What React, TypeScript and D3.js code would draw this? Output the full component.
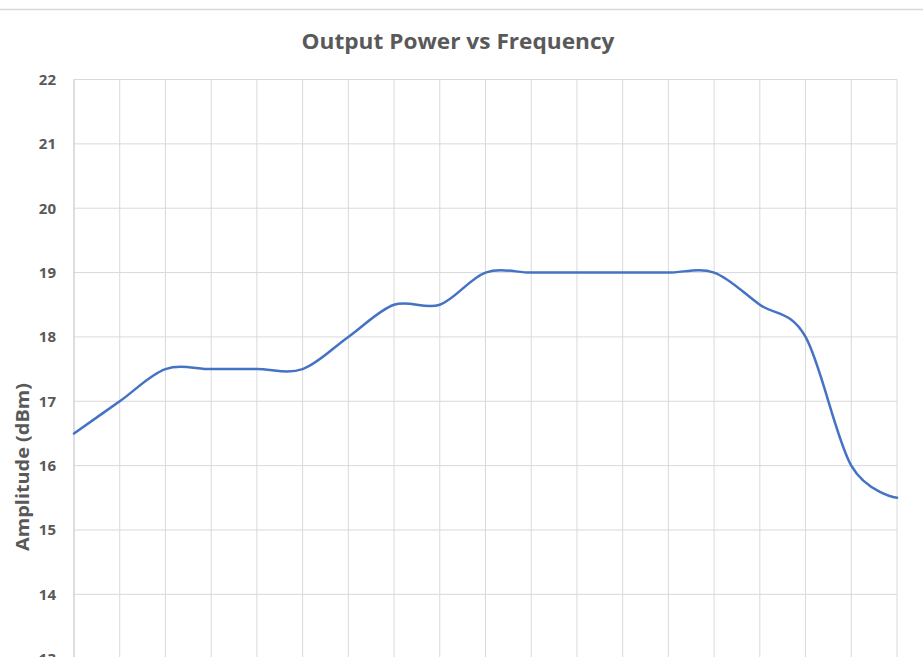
import React from "react";
import * as d3 from "d3";

const categories: string[] = [
  "1", "2", "3", "4", "5", "6", "7", "8", "9", "10",
  "11", "12", "13", "14", "15", "16", "17", "18", "19",
];
const amplitude: number[] = [
  16.5, 17.0, 17.5, 17.5, 17.5, 17.5, 18.0, 18.5, 18.5, 19.0,
  19.0, 19.0, 19.0, 19.0, 19.0, 18.5, 18.0, 16.0, 15.5,
];
const yTicks: number[] = [13, 14, 15, 16, 17, 18, 19, 20, 21, 22];
const chartTitle = "Output Power vs Frequency";
const yTitle = "Amplitude (dBm)";

const W = 923;
const H = 657;

export default function App() {
  const left = 74;
  const right = 897;
  const top = 79.5;
  const bottom = 658.7;

  const x = d3
    .scalePoint<string>()
    .domain(categories)
    .range([left, right]);
  const y = d3.scaleLinear().domain([13, 22]).range([bottom, top]);

  const line = d3
    .line<number>()
    .x((_, i) => x(categories[i]) as number)
    .y((d) => y(d))
    .curve(d3.curveCardinal.tension(0));

  const font = "'Open Sans', 'Liberation Sans', sans-serif";
  const grid = "#d9d9d9";
  const textColor = "#595959";

  return (
    <div style={{ position: "absolute", left: 0, top: 0 }}>
      <svg width={W} height={H} style={{ display: "block", background: "#fff" }}>
        <line x1={0} x2={W} y1={9.5} y2={9.5} stroke={grid} strokeWidth={1.5} />
        <text
          x={458}
          y={48.5}
          textAnchor="middle"
          fontFamily={font}
          fontWeight="bold"
          fontSize={21}
          fill={textColor}
          textLength={313}
          lengthAdjust="spacingAndGlyphs"
        >
          {chartTitle}
        </text>
        {yTicks.map((t) => (
          <line
            key={"h" + t}
            x1={left}
            x2={right}
            y1={y(t)}
            y2={y(t)}
            stroke={grid}
            strokeWidth={1}
          />
        ))}
        {categories.map((c) => (
          <line
            key={"v" + c}
            x1={x(c)}
            x2={x(c)}
            y1={top}
            y2={bottom}
            stroke={grid}
            strokeWidth={1}
          />
        ))}
        <line x1={left} x2={left} y1={top} y2={bottom} stroke="#cfcfcf" strokeWidth={1} />
        {yTicks.map((t) => (
          <text
            key={"t" + t}
            x={56}
            y={y(t)}
            dy="0.36em"
            textAnchor="end"
            fontFamily={font}
            fontWeight="bold"
            fontSize={15}
            fill={textColor}
          >
            {t}
          </text>
        ))}
        <text
          transform={`translate(29, 467) rotate(-90)`}
          textAnchor="middle"
          fontFamily={font}
          fontWeight="bold"
          fontSize={18}
          fill={textColor}
          textLength={168}
          lengthAdjust="spacingAndGlyphs"
        >
          {yTitle}
        </text>
        <path
          d={line(amplitude) || ""}
          fill="none"
          stroke="#4472C4"
          strokeWidth={2.5}
          strokeLinecap="round"
        />
      </svg>
    </div>
  );
}
